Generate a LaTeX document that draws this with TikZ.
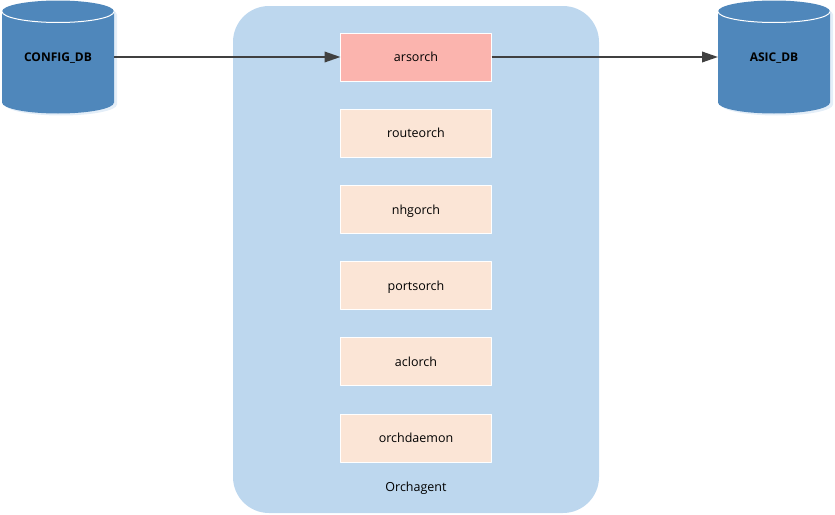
\documentclass[tikz,border=0pt]{standalone}
\usepackage{fontspec}
\setmainfont{Open Sans}
\usetikzlibrary{arrows.meta,backgrounds}
\definecolor{panelblue}{HTML}{BDD7EE}
\definecolor{boxpeach}{HTML}{FBE5D6}
\definecolor{boxred}{HTML}{FBB4AE}
\definecolor{dbblue}{HTML}{4F87BB}
\definecolor{dbshadow}{HTML}{E4EEF8}
\definecolor{linegray}{HTML}{404040}
\tikzset{
	orchbox/.style={draw=white,line width=1pt,fill=boxpeach,minimum width=151pt,minimum height=48pt,outer sep=0pt,text height=10pt,text depth=1pt,font=\fontsize{12.5}{14}\selectfont},
	dbnode/.style={minimum width=112pt,minimum height=113pt,outer sep=0pt,inner sep=0pt,text height=10pt,text depth=2pt,font=\fontsize{12}{14}\selectfont\bfseries},
	conn/.style={draw=linegray,line width=2pt,->},
}
\begin{document}
\begin{tikzpicture}[x=1pt,y=1pt,>={Triangle[length=16pt,width=10.5pt]},line join=round]
	\useasboundingbox (0,0)rectangle(835,-514);
	\node[fill=panelblue,rounded corners=36pt,minimum width=366pt,minimum height=507pt,outer sep=0pt] (orchagent) at (416,-259.5) {};
	\node[font=\fontsize{12.5}{14}\selectfont] (orchlabel) at (416,-488) {Orchagent};
	\foreach \name/\y in {routeorch/133,nhgorch/209.5,portsorch/285.5,aclorch/361.5,orchdaemon/438}{
		\node[orchbox] (\name) at (416,-\y) {\name};
	}
	\node[orchbox,fill=boxred] (arsorch) at (416,-57) {arsorch};
	\node[dbnode] (configdb) at (58,-57) {CONFIG\_DB};
	\node[dbnode] (asicdb) at (774,-57) {ASIC\_DB};
	\begin{scope}[on background layer]
		\foreach \db in {configdb,asicdb}{
			\fill[dbshadow] (\db.north west)++(3,-14)arc[start angle=180,end angle=0,x radius=56,y radius=11]--++(0,-90)arc[start angle=0,end angle=-180,x radius=56,y radius=11]--cycle;
			\fill[dbblue] (\db.north west)++(0,-11)arc[start angle=180,end angle=0,x radius=56,y radius=11]--++(0,-91)arc[start angle=0,end angle=-180,x radius=56,y radius=11]--cycle;
			\draw[white,line width=1pt] (\db.north west)++(0,-11)arc[start angle=180,end angle=360,x radius=56,y radius=11];
		}
	\end{scope}
	\draw[conn] (configdb.east)--(arsorch.west);
	\draw[conn] (arsorch.east)--(asicdb.west);
\end{tikzpicture}
\end{document}
